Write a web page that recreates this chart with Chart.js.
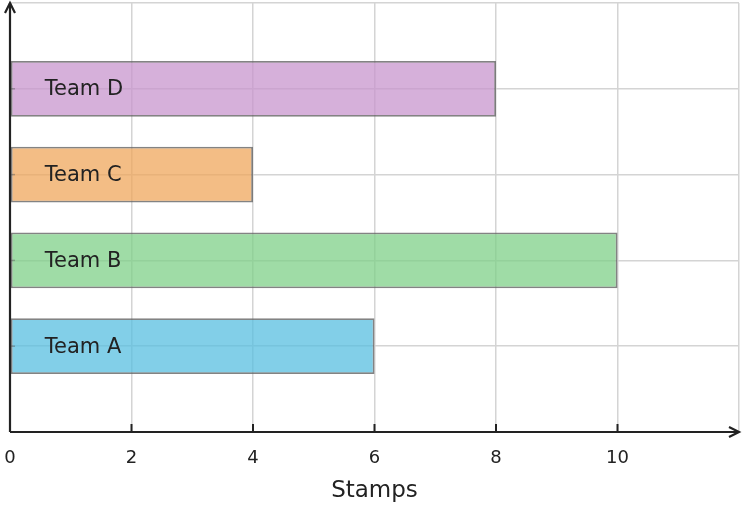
<!DOCTYPE html>
<html>
<head>
<meta charset="utf-8">
<script src="https://cdn.jsdelivr.net/npm/chart.js@4.4.1/dist/chart.umd.min.js"></script>
<style>
  html, body { margin: 0; padding: 0; background: #fff; }
  #wrap { width: 742px; height: 508px; }
</style>
</head>
<body>
<div id="wrap"><canvas id="grafico" width="742" height="508"></canvas></div>
<script>
// dados do gráfico
const teams = ['Team A', 'Team B', 'Team C', 'Team D'];
const stamps = [6, 10, 4, 8];
const barColors = ['rgba(88,191,224,0.75)', 'rgba(127,208,136,0.75)', 'rgba(239,167,92,0.75)', 'rgba(200,150,206,0.75)'];
const xTicks = [0, 2, 4, 6, 8, 10];
const xTitle = 'Stamps';

const ink = '#222222';
const fontFamily = '"DejaVu Sans", sans-serif';

// eixos com setas, rótulos das equipes e marcas
const decoracao = {
    id: 'decoracao',
    afterDatasetsDraw(chart) {
        const ctx = chart.ctx;
        const area = chart.chartArea;
        const xs = chart.scales.x;
        const ys = chart.scales.y;
        const meta = chart.getDatasetMeta(0);
        ctx.save();

        // marcas pequenas no eixo y
        ctx.strokeStyle = 'rgba(90,90,90,0.45)';
        ctx.lineWidth = 1.5;
        meta.data.forEach(function(bar) {
            ctx.beginPath();
            ctx.moveTo(area.left, bar.y);
            ctx.lineTo(area.left + 5, bar.y);
            ctx.stroke();
        });

        // rótulos dentro das barras
        ctx.fillStyle = ink;
        ctx.font = '21px ' + fontFamily;
        ctx.textAlign = 'left';
        ctx.textBaseline = 'middle';
        meta.data.forEach(function(bar, i) {
            ctx.fillText(teams[i], bar.base + 34, bar.y + 1);
        });

        // eixos
        const x0 = xs.getPixelForValue(0);
        const y0 = ys.getPixelForValue(0);
        ctx.strokeStyle = ink;
        ctx.lineWidth = 2.2;
        ctx.beginPath();
        ctx.moveTo(x0, y0);
        ctx.lineTo(x0, area.top);
        ctx.moveTo(x0, y0);
        ctx.lineTo(area.right, y0);
        ctx.stroke();

        // setas
        ctx.beginPath();
        ctx.moveTo(x0 - 5, area.top + 10);
        ctx.lineTo(x0, area.top);
        ctx.lineTo(x0 + 5, area.top + 10);
        ctx.moveTo(area.right - 10, y0 - 5);
        ctx.lineTo(area.right, y0);
        ctx.lineTo(area.right - 10, y0 + 5);
        ctx.stroke();

        // marcas do eixo x
        ctx.lineWidth = 2;
        xTicks.forEach(function(v) {
            if (v === 0) return;
            const px = xs.getPixelForValue(v);
            ctx.beginPath();
            ctx.moveTo(px, y0);
            ctx.lineTo(px, y0 - 8);
            ctx.stroke();
        });
        ctx.restore();
    }
};

const ctx = document.getElementById('grafico').getContext('2d');
const chart = new Chart(ctx, {
    type: 'bar',
    data: {
        datasets: [{
            data: stamps.map(function(v, i) { return { x: v, y: i + 1 }; }),
            backgroundColor: barColors,
            borderColor: 'rgba(100,100,100,0.8)',
            borderWidth: 1.8,
            borderSkipped: false,
            categoryPercentage: 1,
            barPercentage: 0.65
        }]
    },
    options: {
        indexAxis: 'y',
        responsive: false,
        animation: false,
        devicePixelRatio: 1,
        layout: { padding: { left: 10, top: 3, right: 3, bottom: 0 } },
        plugins: {
            legend: { display: false },
            tooltip: { enabled: false }
        },
        scales: {
            x: {
                type: 'linear',
                min: 0,
                max: 12,
                afterBuildTicks: function(scale) {
                    scale.ticks = xTicks.concat([12]).map(function(v) { return { value: v }; });
                },
                ticks: {
                    color: ink,
                    font: { family: fontFamily, size: 18 },
                    padding: 16,
                    maxRotation: 0,
                    autoSkip: false,
                    callback: function(v) { return xTicks.indexOf(v) >= 0 ? String(v) : ''; }
                },
                grid: { color: '#d4d4d4', lineWidth: 1.5, drawTicks: false },
                border: { display: false },
                title: {
                    display: true,
                    text: xTitle,
                    color: ink,
                    font: { family: fontFamily, size: 23 },
                    padding: { top: 4, bottom: 3 }
                },
                afterFit: function(scale) {
                    scale.height = 76;
                    scale.paddingLeft = 0;
                    scale.paddingRight = 0;
                }
            },
            y: {
                type: 'linear',
                min: 0,
                max: 5,
                offset: false,
                ticks: { display: false, stepSize: 1 },
                grid: { color: '#d4d4d4', lineWidth: 1.5, drawTicks: false, offset: false },
                border: { display: false },
                afterFit: function(scale) { scale.width = 0; }
            }
        }
    },
    plugins: [decoracao]
});
</script>
</body>
</html>
